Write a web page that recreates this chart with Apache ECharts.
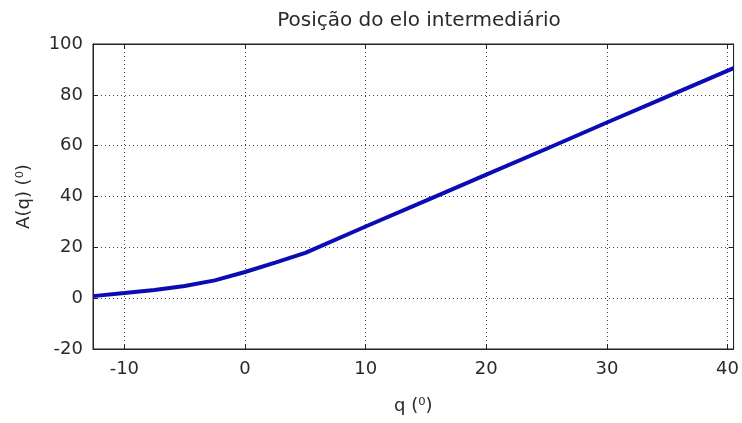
<!DOCTYPE html>
<html>
<head>
<meta charset="utf-8">
<script src="https://cdn.jsdelivr.net/npm/echarts@6/dist/echarts.min.js"></script>
<style>
html,body{margin:0;padding:0;background:#fff;}
#chart{width:742px;height:423px;}
</style>
</head>
<body>
<div id="chart"></div>
<script>
// Data
const qValues = [-12.6, -10, -7.5, -5, -2.5, 0, 2.5, 5, 10, 15, 20, 25, 30, 35, 40.5];
const aValues = [0.8, 2.0, 3.2, 4.8, 7.0, 10.3, 14.0, 17.8, 28.2, 38.4, 48.6, 58.8, 69.1, 79.3, 90.5];
const xTicks = [-10, 0, 10, 20, 30, 40];
const yTicks = [-20, 0, 20, 40, 60, 80, 100];
const xRange = [-12.6, 40.5];
const yRange = [-20, 100];

const titleText = 'Posição do elo intermediário';
const xName = 'q (\u2070)';
const yName = 'A(q) (\u2070)';

const FONT = 'DejaVu Sans';
const TXT = '#2a2a2a';

const chart = echarts.init(document.getElementById('chart'), null, {renderer: 'canvas'});

const gridLine = {show: true, lineStyle: {color: '#444', type: [1, 3], width: 1}};

chart.setOption({
  animation: false,
  backgroundColor: '#fff',
  title: {
    text: titleText,
    left: 414, top: 6, textAlign: 'center',
    textStyle: {fontFamily: FONT, fontSize: 20, fontWeight: 'normal', color: TXT}
  },
  grid: {left: 93, top: 44, right: 6, bottom: 74, containLabel: false,
         show: true, borderColor: '#222', borderWidth: 1},
  xAxis: [{
    type: 'value', min: xRange[0], max: xRange[1],
    name: xName, nameLocation: 'middle', nameGap: 48,
    nameTextStyle: {fontFamily: FONT, fontSize: 18, color: TXT},
    axisLine: {show: true, onZero: false, lineStyle: {color: '#222'}},
    axisTick: {show: true, inside: true, length: 5, customValues: xTicks, lineStyle: {color: '#222'}},
    axisLabel: {customValues: xTicks, fontFamily: FONT, fontSize: 18, color: TXT, margin: 11},
    splitLine: gridLine
  }, {
    type: 'value', min: xRange[0], max: xRange[1], position: 'top',
    axisLine: {show: true, onZero: false, lineStyle: {color: '#222'}},
    axisTick: {show: true, inside: true, length: 5, customValues: xTicks, lineStyle: {color: '#222'}},
    axisLabel: {show: false, customValues: xTicks},
    splitLine: {show: false}
  }],
  yAxis: [{
    type: 'value', min: yRange[0], max: yRange[1], interval: 20,
    name: yName, nameLocation: 'middle', nameGap: 60, nameRotate: 90,
    nameTextStyle: {fontFamily: FONT, fontSize: 18, color: TXT},
    axisLine: {show: true, onZero: false, lineStyle: {color: '#222'}},
    axisTick: {show: true, inside: true, length: 5, lineStyle: {color: '#222'}},
    axisLabel: {fontFamily: FONT, fontSize: 18, color: TXT, margin: 10},
    splitLine: gridLine
  }, {
    type: 'value', min: yRange[0], max: yRange[1], interval: 20, position: 'right',
    axisLine: {show: true, onZero: false, lineStyle: {color: '#222'}},
    axisTick: {show: true, inside: true, length: 5, lineStyle: {color: '#222'}},
    axisLabel: {show: false},
    splitLine: {show: false}
  }],
  series: [{
    type: 'line',
    data: qValues.map((q, i) => [q, aValues[i]]),
    showSymbol: false,
    smooth: false,
    lineStyle: {color: '#0c0cb4', width: 4},
    xAxisIndex: 0, yAxisIndex: 0
  }]
});
</script>
</body>
</html>
